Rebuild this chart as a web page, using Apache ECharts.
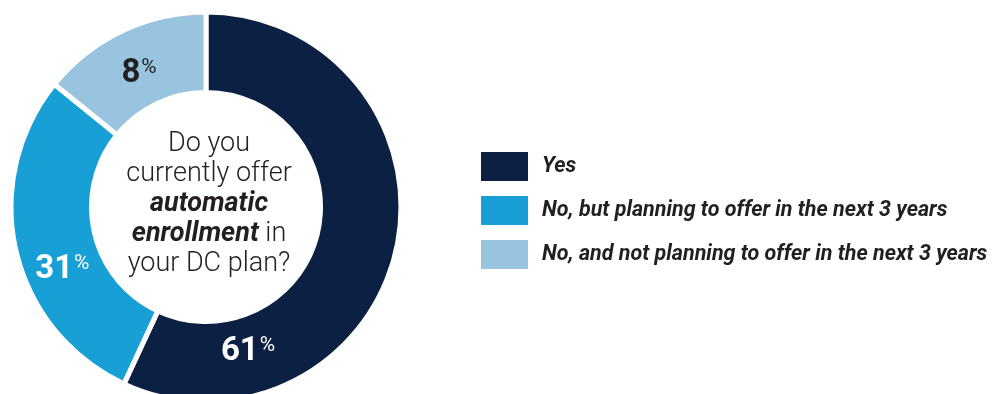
<!DOCTYPE html>
<html>
<head>
<meta charset="utf-8">
<script src="https://cdn.jsdelivr.net/npm/echarts@6/dist/echarts.min.js"></script>
<style>
html,body{margin:0;padding:0;background:#fff;}
#c{width:992px;height:394px;}
</style>
</head>
<body>
<div id="c"></div>
<script>
const categories = ['Yes', 'No, but planning to offer in the next 3 years', 'No, and not planning to offer in the next 3 years'];
const values = [61, 31, 8];
const colors = ['#0c2044', '#189fd6', '#99c4e0'];
const labelColors = ['#ffffff', '#ffffff', '#231f20'];
const labelOffsets = [[-112, 111], [10, 27], [1, 9]];
const centerLines = ['Do you', 'currently offer', '{b|automatic}', '{b|enrollment} in', 'your DC plan?'];

const chart = echarts.init(document.getElementById('c'), null, {renderer: 'canvas'});
const data = categories.map((name, i) => ({
  name: name,
  value: values[i],
  itemStyle: {color: colors[i]},
  label: {offset: labelOffsets[i], color: labelColors[i]}
}));

chart.setOption({
  animation: false,
  legend: {
    orient: 'vertical',
    left: 481,
    top: 152,
    padding: 0,
    itemWidth: 47,
    itemHeight: 29,
    itemGap: 15,
    icon: 'rect',
    selectedMode: false,
    itemStyle: {borderWidth: 0},
    textStyle: {
      fontFamily: 'Roboto',
      fontStyle: 'italic',
      fontWeight: 'bold',
      fontSize: 21.5,
      color: '#231f20',
      padding: [0, 0, 0, 9]
    },
    data: categories
  },
  graphic: [{
    type: 'text',
    x: 209,
    y: 129,
    silent: true,
    style: {
      text: centerLines.join('\n'),
      align: 'center',
      verticalAlign: 'top',
      fontFamily: 'Roboto',
      fontWeight: 300,
      fontSize: 27,
      lineHeight: 30,
      fill: '#231f20',
      rich: {
        b: {fontFamily: 'Roboto', fontWeight: 'bold', fontStyle: 'italic', fontSize: 27, lineHeight: 30, fill: '#231f20'}
      }
    }
  }],
  series: [{
    type: 'pie',
    center: [206, 207],
    radius: [114.5, 195],
    startAngle: 90,
    clockwise: true,
    minAngle: 51,
    avoidLabelOverlap: false,
    silent: true,
    itemStyle: {borderColor: '#ffffff', borderWidth: 5},
    label: {
      show: true,
      position: 'inside',
      formatter: p => '{v|' + p.value + '}{p|%}',
      rich: {
        v: {fontFamily: 'Roboto', fontWeight: 'bold', fontSize: 33, lineHeight: 36},
        p: {fontFamily: 'Roboto', fontSize: 21, lineHeight: 36, padding: [0, 0, 12, 1]}
      }
    },
    labelLine: {show: false},
    data: data
  }]
});
</script>
</body>
</html>
